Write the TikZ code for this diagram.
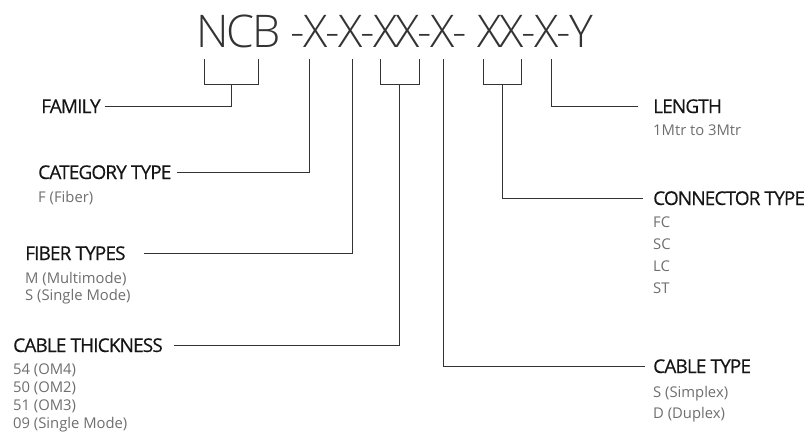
\documentclass[tikz,border=0pt]{standalone}
\usepackage{fontspec}
\setmainfont{Open Sans}
\newfontfamily\codefont[LetterSpace=-4.2]{Open Sans Light}
\newfontfamily\headfont[LetterSpace=-4.6,FakeBold=0.4]{Open Sans}
\usepackage{tikz}

\definecolor{wiregray}{HTML}{333333}
\definecolor{subgray}{HTML}{6E6E6E}
\definecolor{headblack}{HTML}{151515}

\tikzset{
  heading/.style={anchor=base west, inner sep=0pt, text=headblack, font=\headfont\fontsize{19}{22}\selectfont},
  choice/.style={anchor=base west, inner sep=0pt, text=subgray, font=\fontsize{14.8}{17}\selectfont},
  wire/.style={draw=wiregray, line width=0.9pt}
}

\begin{document}
\begin{tikzpicture}[x=1pt,y=-1pt]
\useasboundingbox (0,0) rectangle (804,447);

\node[anchor=base west, inner sep=0pt, text=wiregray, font=\codefont\fontsize{45}{50}\selectfont] (code) at (196,47) {NCB -X-X-XX-X- XX-X-Y};

% brackets under the code
\foreach \l/\r/\n in {204/258/fam, 380/419/thick, 483/521/conn} {
\draw[wire] (\l,59) -- (\l,84) -- (\r,84) -- (\r,59);
\coordinate (\n-top) at ({(\l+\r)/2},84);
}
\foreach \x/\n in {309/cat, 352/fib, 443/ctype, 551/len} {
\coordinate (\n-top) at (\x,59);
}

% left side
\node[heading] (family) at (41,113) {FAMILY};
\draw[wire] ([xshift=4pt]family.east) -| (fam-top);

\node[heading] (category) at (38,179) {CATEGORY TYPE};
\node[choice] (category0) at (38,202) {F (Fiber)};
\draw[wire] ([xshift=5pt]category.east) -| (cat-top);

\node[heading] (fiber) at (25,260) {FIBER TYPES};
\foreach \t [count=\i from 0] in {M (Multimode), S (Single Mode)} {
\node[choice] (fiber\i) at (25,283+17*\i) {\t};
}
\draw[wire] ([xshift=18pt]fiber.east) -| (fib-top);

\node[heading] (thickness) at (13,352) {CABLE THICKNESS};
\foreach \t [count=\i from 0] in {54 (OM4), 50 (OM2), 51 (OM3), 09 (Single Mode)} {
\node[choice] (thickness\i) at (13,374+18*\i) {\t};
}
\draw[wire] ([xshift=11pt]thickness.east) -| (thick-top);

% right side
\node[heading] (length) at (653,113) {LENGTH};
\node[choice] (length0) at (653,135) {1Mtr to 3Mtr};
\draw[wire] (len-top) |- ([xshift=-15pt]length.west);

\node[heading] (connector) at (653,205) {CONNECTOR TYPE};
\foreach \t [count=\i from 0] in {FC, SC, LC, ST} {
\node[choice] (connector\i) at (653,227+22*\i) {\t};
}
\draw[wire] (conn-top) |- ([xshift=-10pt]connector.west);

\node[heading] (cable) at (653,373) {CABLE TYPE};
\foreach \t [count=\i from 0] in {S (Simplex), D (Duplex)} {
\node[choice] (cable\i) at (653,397+21*\i) {\t};
}
\draw[wire] (ctype-top) |- ([xshift=-8pt]cable.west);

\end{tikzpicture}
\end{document}
